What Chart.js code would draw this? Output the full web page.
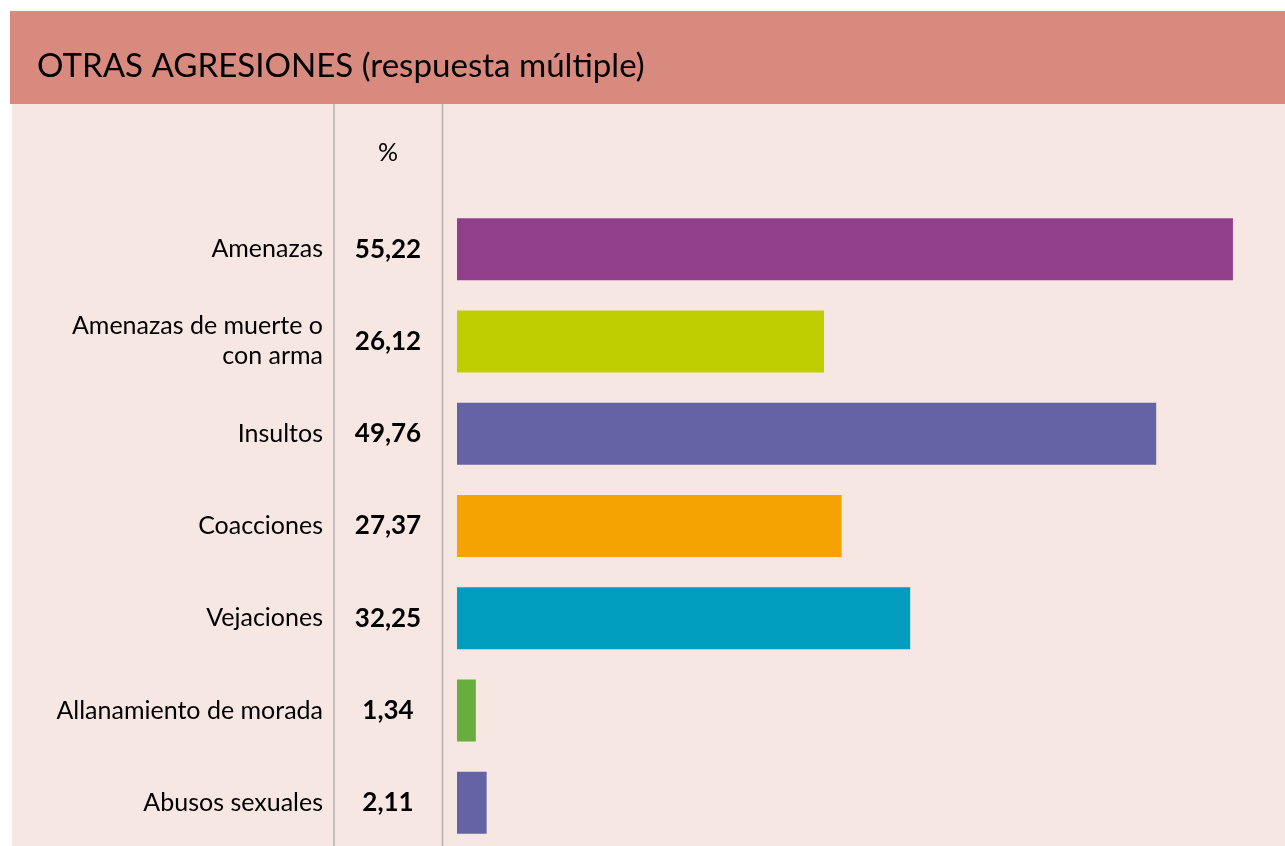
<!DOCTYPE html>
<html>
<head>
<meta charset="utf-8">
<title>Otras agresiones</title>
<script src="https://cdn.jsdelivr.net/npm/chart.js@4.4.1/dist/chart.umd.min.js"></script>
<style>
  html, body { margin: 0; padding: 0; background: #ffffff; overflow: hidden; }
  #wrap { position: relative; width: 1285px; height: 850px; }
  canvas { display: block; }
</style>
</head>
<body>
<div id="wrap"><canvas id="chart" width="1285" height="850"></canvas></div>
<script>
// Categories, values and bar colours
const categories = [
  'Amenazas',
  ['Amenazas de muerte o', 'con arma'],
  'Insultos',
  'Coacciones',
  'Vejaciones',
  'Allanamiento de morada',
  'Abusos sexuales'
];
const percentages = [55.22, 26.12, 49.76, 27.37, 32.25, 1.34, 2.11];
const barColors = ['#923f8b', '#bfce00', '#6363a5', '#f5a300', '#009dbe', '#67ae3d', '#6363a5'];

const titleText = 'OTRAS AGRESIONES (respuesta múltiple)';
const columnHeader = '%';

const FONT = 'Lato, "Open Sans", sans-serif';

const fmt = v => v.toFixed(2).replace('.', ',');

// Panel background, header band, column rules and text columns
const panelPlugin = {
  id: 'panel',
  beforeDraw(chart) {
    const ctx = chart.ctx;
    const W = chart.width, H = chart.height;
    ctx.save();
    ctx.fillStyle = '#ffffff';
    ctx.fillRect(0, 0, W, H);
    ctx.fillStyle = '#f6e7e3';
    ctx.fillRect(12, 104, W - 12, H - 104);
    ctx.fillStyle = '#d88a7f';
    ctx.fillRect(10, 11, W - 10, 93);

    // title, sized to span its column
    ctx.fillStyle = '#000000';
    ctx.textBaseline = 'alphabetic';
    ctx.textAlign = 'left';
    let size = 34;
    ctx.font = size + 'px ' + FONT;
    const w = ctx.measureText(titleText).width;
    size = size * 608 / w;
    ctx.font = size.toFixed(2) + 'px ' + FONT;
    ctx.fillText(titleText, 37, 77);

    // column rules
    ctx.strokeStyle = '#b9b1af';
    ctx.lineWidth = 1.5;
    [334, 442.5].forEach(x => {
      ctx.beginPath();
      ctx.moveTo(x, 104);
      ctx.lineTo(x, H);
      ctx.stroke();
    });

    // column header
    ctx.font = '25px ' + FONT;
    ctx.textAlign = 'center';
    ctx.textBaseline = 'middle';
    ctx.fillText(columnHeader, 388, 153);
    ctx.restore();
  },
  afterDatasetsDraw(chart) {
    const ctx = chart.ctx;
    const y = chart.scales.y;
    ctx.save();
    ctx.fillStyle = '#000000';
    ctx.textBaseline = 'middle';
    categories.forEach((lab, i) => {
      const cy = y.getPixelForValue(i);
      const lines = Array.isArray(lab) ? lab : [lab];
      ctx.font = '25px ' + FONT;
      ctx.textAlign = 'right';
      const lh = 30;
      lines.forEach((t, k) => {
        ctx.fillText(t, 323, cy + (k - (lines.length - 1) / 2) * lh);
      });
      ctx.font = 'bold 26px ' + FONT;
      ctx.textAlign = 'center';
      ctx.fillText(fmt(percentages[i]), 388, cy);
    });
    ctx.restore();
  }
};

new Chart(document.getElementById('chart'), {
  type: 'bar',
  data: {
    labels: categories,
    datasets: [{
      data: percentages,
      backgroundColor: barColors,
      borderWidth: 0,
      barPercentage: 0.672,
      categoryPercentage: 1
    }]
  },
  options: {
    indexAxis: 'y',
    responsive: false,
    animation: false,
    layout: { padding: { left: 457, right: 13, top: 203, bottom: 1 } },
    scales: {
      x: { display: false, min: 0, max: 58 },
      y: { display: false }
    },
    plugins: {
      legend: { display: false },
      tooltip: { enabled: false },
      title: { display: false }
    }
  },
  plugins: [panelPlugin]
});
</script>
</body>
</html>
